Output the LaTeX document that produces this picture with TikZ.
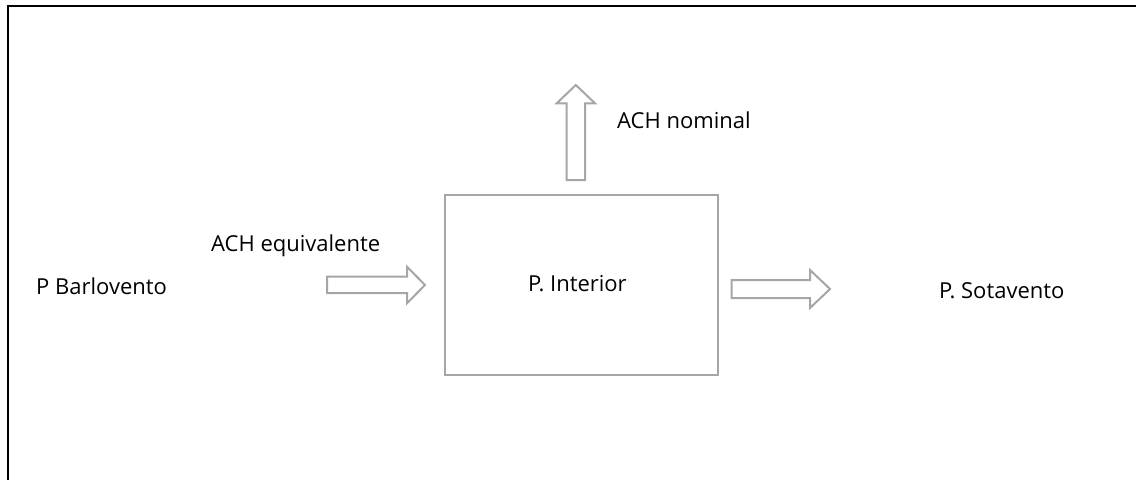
\documentclass[tikz,border=0pt]{standalone}
\usepackage{fontspec}
\setmainfont{Open Sans}
\definecolor{edgegray}{HTML}{A6A6A6}
\begin{document}
\begin{tikzpicture}[x=1pt,y=-1pt,
  lbl/.style={anchor=base west,inner sep=0pt,font=\fontsize{22}{26}\selectfont,text=black},
  blockarrow/.style={draw=edgegray,line width=2pt,fill=white,line join=miter},
  box/.style={draw=edgegray,line width=2pt,fill=white}]
\useasboundingbox (0,0) rectangle (1136,480);
% outer frame (top and left only visible)
\draw[line width=2pt,black] (8,480) -- (8,6) -- (1136,6);
% interior box
\node[box,minimum width=273pt,minimum height=180pt,anchor=north west,inner sep=0pt] (int) at (443.5,193.5) {};
\node[lbl] (tint) at (528,291) {P. Interior};
% left arrow
\draw[blockarrow] (327,276.7) -- (407,276.7) -- (407,266.7) -- (425,285) -- (407,303.3) -- (407,293) -- (327,293) -- cycle;
% right arrow
\draw[blockarrow] (731.7,280) -- (810,280) -- (810,270) -- (830,289) -- (810,308) -- (810,298) -- (731.7,298) -- cycle;
% up arrow
\draw[blockarrow] (566.7,180) -- (566.7,103.3) -- (556.7,103.3) -- (575.8,85) -- (595,103.3) -- (585,103.3) -- (585,180) -- cycle;
% labels
\node[lbl] (nom) at (617,128) {ACH nominal};
\node[lbl] (equ) at (211,251.7) {ACH equivalente};
\node[lbl] (bar) at (36,294) {P Barlovento};
\node[lbl] (sot) at (939,298) {P. Sotavento};
\end{tikzpicture}
\end{document}
